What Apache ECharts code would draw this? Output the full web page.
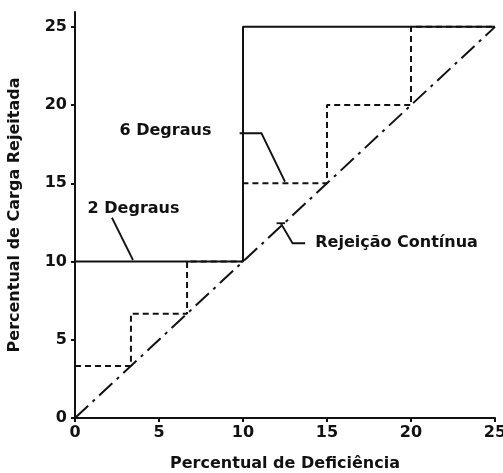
<!DOCTYPE html>
<html>
<head>
<meta charset="utf-8">
<script src="https://cdn.jsdelivr.net/npm/echarts@6/dist/echarts.min.js"></script>
<style>
  html, body { margin: 0; padding: 0; background: #fff; }
  #chart { width: 503px; height: 473px; }
</style>
</head>
<body>
<div id="chart"></div>
<script>
// eixos
const ticks = [0, 5, 10, 15, 20, 25];

// 2 degraus (linha cheia)
const deg2X = [0, 10, 10, 25];
const deg2Y = [10, 10, 25, 25];

// 6 degraus (tracejada)
const deg6X = [0, 3.33, 3.33, 6.67, 6.67, 10, 10, 15, 15, 20, 20, 25];
const deg6Y = [3.33, 3.33, 6.67, 6.67, 10, 10, 15, 15, 20, 20, 25, 25];

// rejeição contínua (traço-ponto)
const contX = [0, 25];
const contY = [0, 25];

// anotações
const labels = ["6 Degraus", "2 Degraus", "Rejeição Contínua"];
const labelX = [2.65, 0.75, 14.3];
const labelY = [18.35, 13.4, 11.2];
const lead6 = [[9.8, 18.2], [11.1, 18.2], [12.5, 15.1]];
const lead2 = [[2.2, 12.8], [3.45, 10.1]];
const leadC = [[12.25, 12.45], [12.95, 11.17], [13.7, 11.17]];
const barC = [[12.0, 12.45], [12.5, 12.45]];

const pts = (xs, ys) => xs.map((x, i) => [x, ys[i]]);
const font = "'DejaVu Sans', sans-serif";
const ink = "#111";

const chart = echarts.init(document.getElementById("chart"));
chart.setOption({
  animation: false,
  textStyle: { fontFamily: font },
  grid: { left: 75, right: 8, top: 12, bottom: 55, outerBoundsMode: "none", containLabel: false },
  xAxis: {
    type: "value", min: 0, max: 25, interval: 5,
    name: "Percentual de Deficiência", nameLocation: "middle", nameGap: 38,
    nameTextStyle: { fontSize: 16, fontWeight: "bold", color: ink },
    axisLine: { lineStyle: { color: ink, width: 2 } },
    axisTick: { length: 4, lineStyle: { color: ink, width: 2 } },
    axisLabel: { fontSize: 16, fontWeight: "bold", color: ink, margin: 7 },
    splitLine: { show: false }
  },
  yAxis: {
    type: "value", min: 0, max: 25.95,
    name: "Percentual de Carga Rejeitada", nameLocation: "middle", nameGap: 52,
    nameTextStyle: { fontSize: 16, fontWeight: "bold", color: ink },
    axisLine: { lineStyle: { color: ink, width: 2 } },
    axisTick: { length: 4, customValues: ticks, lineStyle: { color: ink, width: 2 } },
    axisLabel: { fontSize: 16, fontWeight: "bold", color: ink, margin: 8, customValues: ticks },
    splitLine: { show: false }
  },
  series: [
    {
      type: "line", data: pts(contX, contY), symbol: "none",
      lineStyle: { color: ink, width: 2, type: [18, 6, 3, 6] }
    },
    {
      type: "line", data: pts(deg6X, deg6Y), symbol: "none",
      lineStyle: { color: ink, width: 2, type: [6, 4] }
    },
    {
      type: "line", data: pts(deg2X, deg2Y), symbol: "none",
      lineStyle: { color: ink, width: 2 }
    },
    {
      type: "lines", coordinateSystem: "cartesian2d", polyline: true,
      symbol: ["none", "arrow"], symbolSize: 6,
      lineStyle: { color: ink, width: 1.8, opacity: 1 },
      data: [{ coords: lead6 }, { coords: lead2 }]
    },
    {
      type: "lines", coordinateSystem: "cartesian2d", polyline: true,
      lineStyle: { color: ink, width: 1.8, opacity: 1 },
      data: [{ coords: leadC }, { coords: barC }]
    },
    {
      type: "scatter", symbolSize: 0,
      itemStyle: { opacity: 1 },
      data: labels.map((t, i) => ({ value: [labelX[i], labelY[i]], name: t })),
      label: {
        show: true, position: "inside", formatter: "{b}",
        fontSize: 16, fontWeight: "bold", color: ink, align: "left"
      }
    }
  ]
});
</script>
</body>
</html>
